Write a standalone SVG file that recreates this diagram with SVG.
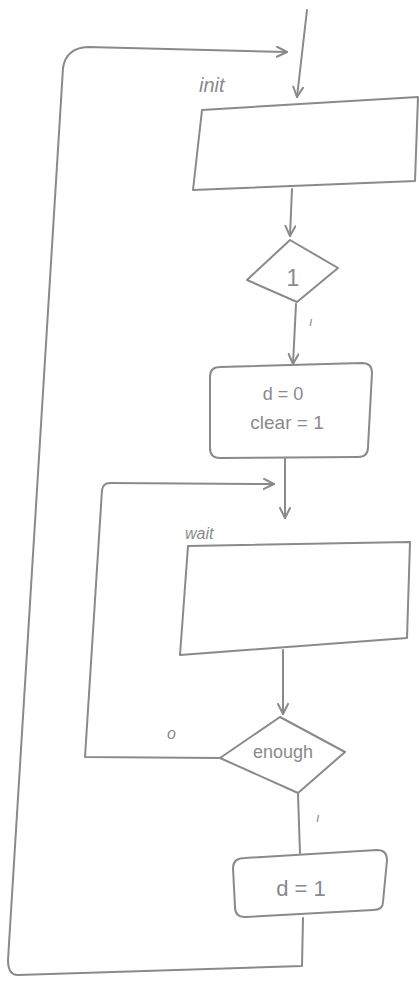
<svg xmlns="http://www.w3.org/2000/svg" width="419" height="981" viewBox="0 0 419 981">
<style>
.s{fill:none;stroke:#8a8a8a;stroke-width:2;stroke-linecap:round;stroke-linejoin:round}
.n{fill:#fff;stroke:#8a8a8a;stroke-width:2;stroke-linejoin:round}
.t{font-family:"Liberation Sans",Arial,sans-serif;fill:#8a8a8a;text-anchor:middle}
.l{font-family:"Liberation Sans",Arial,sans-serif;fill:#8a8a8a;font-style:italic}
</style>
<defs>
<marker id="a" viewBox="0 0 12 12" refX="11" refY="6" markerWidth="12" markerHeight="12" markerUnits="userSpaceOnUse" orient="auto">
<path d="M1,1 L11,6 L1,11" fill="none" stroke="#8a8a8a" stroke-width="2" stroke-linecap="round" stroke-linejoin="round"/>
</marker>
</defs>
<rect width="419" height="981" fill="#fff"/>
<g id="connectors">
<path class="s" d="M307,10 L297,97" marker-end="url(#a)"/>
<path class="s" d="M303,918 L302,966 L18,975 Q8,975 8,960 L63,68 Q66,48 88,47 L287,52" marker-end="url(#a)"/>
<path class="s" d="M292,189 L290,236" marker-end="url(#a)"/>
<path class="s" d="M296,304 L293,364" marker-end="url(#a)"/>
<path class="s" d="M285,459 L285,518" marker-end="url(#a)"/>
<path class="s" d="M220,758 L85,757 L102,490 Q103,483 110,483 L274,484" marker-end="url(#a)"/>
<path class="s" d="M283,650 L283,714" marker-end="url(#a)"/>
<path class="s" d="M298,794 L300,853"/>
<text class="l" x="309" y="326" font-size="13">ı</text>
<text class="l" x="167" y="739" font-size="16">o</text>
<text class="l" x="316" y="822" font-size="13">ı</text>
</g>
<g id="init">
<text class="l" x="199" y="92" font-size="20">init</text>
<path class="n" d="M202,110 L418,97 L415,181 L193,190 Z"/>
</g>
<g id="cond1">
<path class="n" d="M290,240 L338,268 L297,302 L247,280 Z"/>
<text class="t" x="293" y="286" font-size="23">1</text>
</g>
<g id="reset">
<path class="n" d="M220,367 L362,363 Q372,363 372,373 L368,447 Q368,457 358,457 L220,458 Q210,458 210,448 L210,377 Q210,367 220,367 Z"/>
<text class="t" x="283" y="400" font-size="18">d = 0</text>
<text class="t" x="287" y="429" font-size="19">clear = 1</text>
</g>
<g id="wait">
<text class="l" x="185" y="539" font-size="16">wait</text>
<path class="n" d="M188,546 L410,542 L407,638 L180,655 Z"/>
</g>
<g id="enough">
<path class="n" d="M280,717 L345,752 L298,793 L220,758 Z"/>
<text class="t" x="283" y="758" font-size="18">enough</text>
</g>
<g id="done">
<path class="n" d="M245,858 L377,850 Q387,850 387,860 L383,902 Q383,910 373,910 L245,917 Q235,917 235,907 L233,868 Q233,858 245,858 Z"/>
<text class="t" x="301" y="896" font-size="22">d = 1</text>
</g>
</svg>
